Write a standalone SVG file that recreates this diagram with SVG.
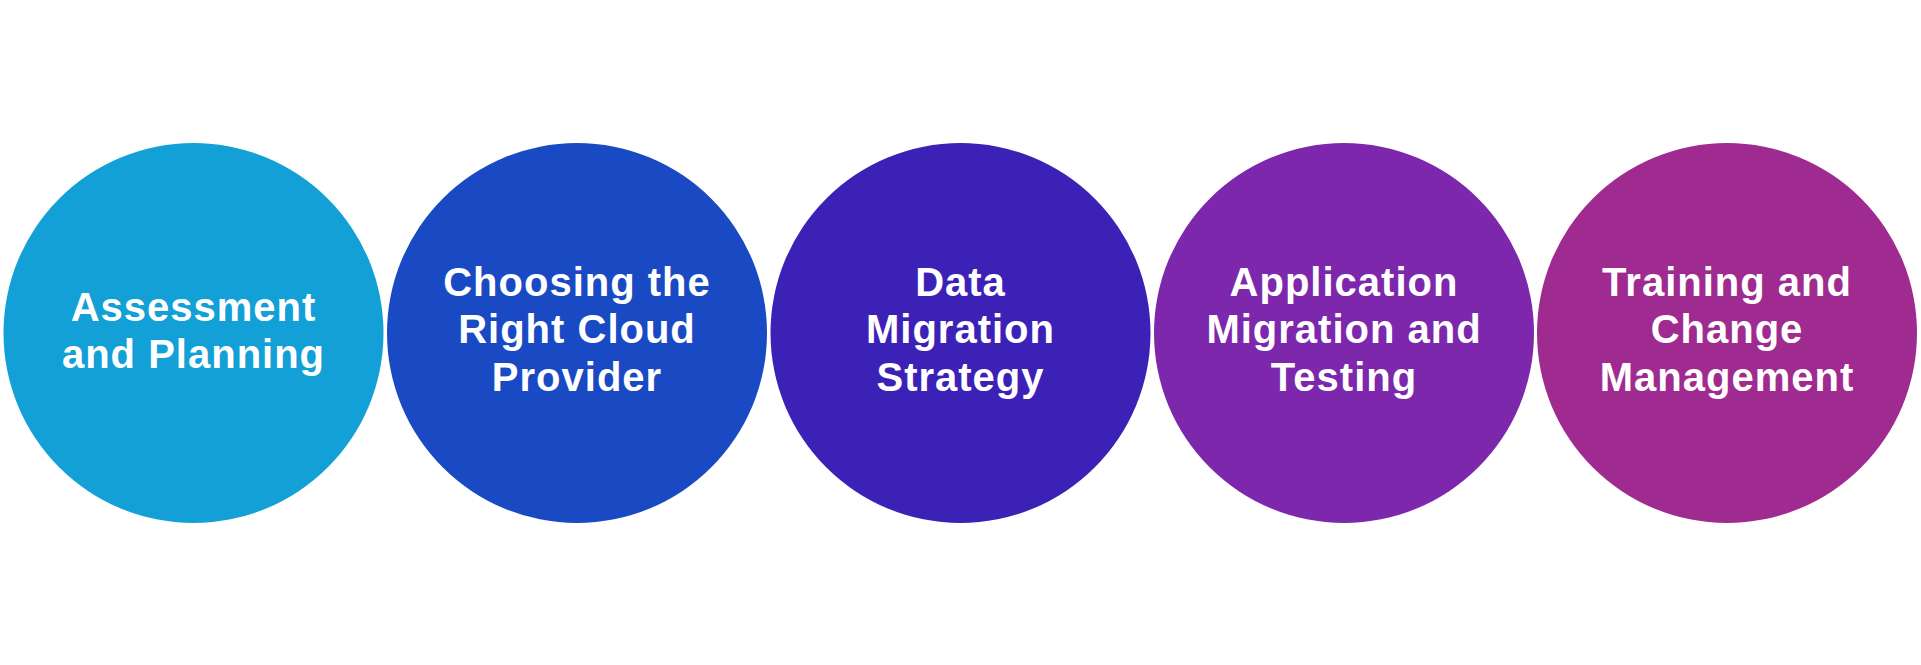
<svg xmlns="http://www.w3.org/2000/svg" width="1921" height="665" viewBox="0 0 1921 665">
<style>
.lbl{font-family:"Liberation Sans",Arial,sans-serif;font-weight:bold;font-size:40px;fill:#ffffff;text-anchor:middle;letter-spacing:1px}
</style>
<rect width="1921" height="665" fill="#ffffff"/>
<g id="connectors"></g>
<g id="node1">
<circle cx="193.5" cy="333" r="190" fill="#12A0D7"/>
<text class="lbl" x="193.5" y="320.7">Assessment</text>
<text class="lbl" x="193.5" y="368.3">and Planning</text>
</g>
<g id="node2">
<circle cx="577" cy="333" r="190" fill="#1A49C4"/>
<text class="lbl" x="577" y="295.7">Choosing the</text>
<text class="lbl" x="577" y="343.3">Right Cloud</text>
<text class="lbl" x="577" y="391">Provider</text>
</g>
<g id="node3">
<circle cx="960.5" cy="333" r="190" fill="#3C21B7"/>
<text class="lbl" x="960.5" y="295.7">Data</text>
<text class="lbl" x="960.5" y="343.3">Migration</text>
<text class="lbl" x="960.5" y="391">Strategy</text>
</g>
<g id="node4">
<circle cx="1344" cy="333" r="190" fill="#7C27AC"/>
<text class="lbl" x="1344" y="295.7">Application</text>
<text class="lbl" x="1344" y="343.3">Migration and</text>
<text class="lbl" x="1344" y="391">Testing</text>
</g>
<g id="node5">
<circle cx="1727" cy="333" r="190" fill="#A02B90"/>
<text class="lbl" x="1727" y="295.7">Training and</text>
<text class="lbl" x="1727" y="343.3">Change</text>
<text class="lbl" x="1727" y="391">Management</text>
</g>
</svg>
